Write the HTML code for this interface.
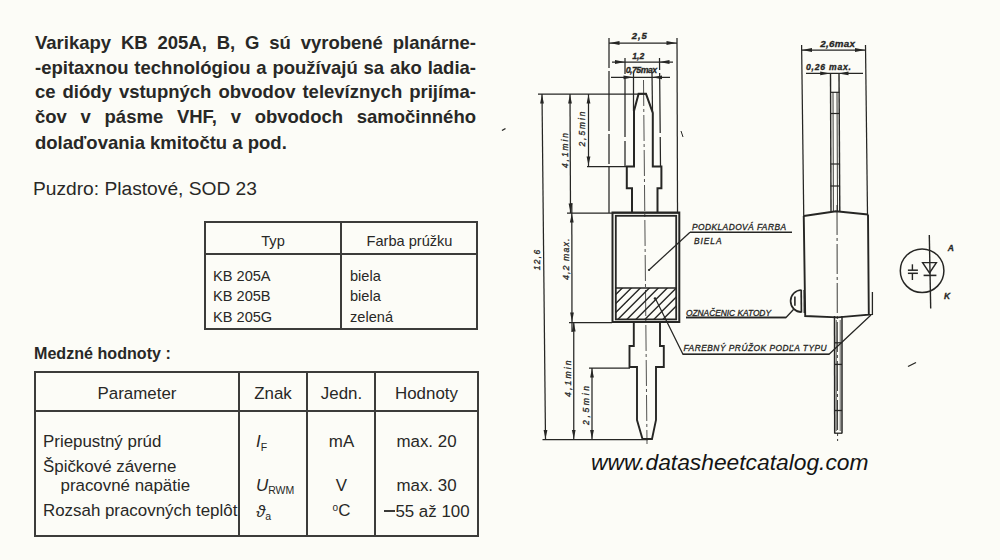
<!DOCTYPE html>
<html><head><meta charset="utf-8">
<style>
html,body{margin:0;padding:0;}
body{width:1000px;height:560px;overflow:hidden;background:#fcfcf7;position:relative;font-family:"Liberation Sans",sans-serif;color:#282826;}
.a{position:absolute;white-space:nowrap;}
.pl{position:absolute;left:35px;width:441px;font-weight:bold;font-size:18.5px;line-height:20px;text-align:justify;text-align-last:justify;white-space:nowrap;}
.t{position:absolute;font-size:14.6px;line-height:18px;}
.r{font-size:16.9px;line-height:18px;}
.ln{position:absolute;background:#3c3c3a;}
#dr{position:absolute;left:0;top:0;}
</style></head><body>
<div class="pl" style="top:33px">Varikapy KB 205A, B, G sú vyrobené planárne-</div>
<div class="pl" style="top:57.8px">-epitaxnou technológiou a používajú sa ako ladia-</div>
<div class="pl" style="top:81.6px">ce diódy vstupných obvodov televíznych prijíma-</div>
<div class="pl" style="top:106.9px">čov v pásme VHF, v obvodoch samočinného</div>
<div class="a" style="left:35px;top:132.6px;font-weight:bold;font-size:18.5px;line-height:20px;">dolaďovania kmitočtu a pod.</div>

<div class="a" style="left:33px;top:179px;font-size:19.2px;line-height:20px;">Puzdro: Plastové, SOD 23</div>

<!-- table 1 -->
<div class="ln" style="left:204px;top:221px;width:274px;height:2px;"></div>
<div class="ln" style="left:204px;top:328px;width:274px;height:2px;"></div>
<div class="ln" style="left:204px;top:221px;width:2px;height:109px;"></div>
<div class="ln" style="left:476px;top:221px;width:2px;height:109px;"></div>
<div class="ln" style="left:204px;top:253px;width:274px;height:2px;"></div>
<div class="ln" style="left:340px;top:221px;width:2px;height:109px;"></div>
<div class="t a" style="left:205px;width:136px;text-align:center;top:232px;">Typ</div>
<div class="t a" style="left:342px;width:135px;text-align:center;top:232px;">Farba prúžku</div>
<div class="t a" style="left:213px;top:267px;">KB 205A</div>
<div class="t a" style="left:213px;top:287px;">KB 205B</div>
<div class="t a" style="left:213px;top:307.5px;">KB 205G</div>
<div class="t a" style="left:350px;top:267px;">biela</div>
<div class="t a" style="left:350px;top:287px;">biela</div>
<div class="t a" style="left:350px;top:307.5px;">zelená</div>

<div class="a" style="left:34px;top:344.2px;font-weight:bold;font-size:16.1px;line-height:18px;">Medzné hodnoty :</div>

<!-- table 2 -->
<div class="ln" style="left:34px;top:371px;width:445px;height:2px;"></div>
<div class="ln" style="left:34px;top:535px;width:445px;height:2px;"></div>
<div class="ln" style="left:34px;top:371px;width:2px;height:166px;"></div>
<div class="ln" style="left:477px;top:371px;width:2px;height:166px;"></div>
<div class="ln" style="left:34px;top:410px;width:445px;height:2px;"></div>
<div class="ln" style="left:238px;top:371px;width:2px;height:166px;"></div>
<div class="ln" style="left:306px;top:371px;width:2px;height:166px;"></div>
<div class="ln" style="left:374px;top:371px;width:2px;height:166px;"></div>
<div class="r a" style="left:35px;width:204px;text-align:center;top:385.4px;">Parameter</div>
<div class="r a" style="left:240px;width:66px;text-align:center;top:385.4px;">Znak</div>
<div class="r a" style="left:308px;width:67px;text-align:center;top:385.4px;">Jedn.</div>
<div class="r a" style="left:376px;width:101px;text-align:center;top:385.4px;">Hodnoty</div>

<div class="r a" style="left:43px;top:432.8px;">Priepustný prúd</div>
<div class="r a" style="left:43px;top:457.8px;">Špičkové záverne</div>
<div class="r a" style="left:60.5px;top:477.4px;">pracovné napätie</div>
<div class="r a" style="left:43px;top:502.4px;">Rozsah pracovných teplôt</div>

<div class="r a" style="left:256px;top:432.8px;font-style:italic;">I<span style="font-size:10.5px;font-style:normal;position:relative;top:4px;">F</span></div>
<div class="r a" style="left:256px;top:477.4px;font-style:italic;">U<span style="font-size:10.5px;font-style:normal;position:relative;top:3px;">RWM</span></div>
<div class="r a" style="left:256px;top:503.4px;font-style:italic;">ϑ<span style="font-size:10.5px;font-style:normal;position:relative;top:3px;">a</span></div>

<div class="r a" style="left:308px;width:67px;text-align:center;top:432.8px;">mA</div>
<div class="r a" style="left:308px;width:67px;text-align:center;top:477.4px;">V</div>
<div class="r a" style="left:308px;width:67px;text-align:center;top:502.4px;"><span style="font-size:10px;position:relative;top:-5px;">o</span>C</div>

<div class="r a" style="left:376px;width:101px;text-align:center;top:432.8px;">max. 20</div>
<div class="r a" style="left:376px;width:101px;text-align:center;top:477.4px;">max. 30</div>
<div class="r a" style="left:376px;width:101px;text-align:center;top:503px;"><span style="display:inline-block;width:11px;height:1.3px;background:#3a3a38;vertical-align:5.5px;margin-left:0.5px;margin-right:0.5px;"></span>55 až 100</div>

<!-- DRAWING -->
<svg id="dr" width="1000" height="560" viewBox="0 0 1000 560">
<line x1="609" y1="38" x2="609" y2="213" stroke="#262624" stroke-width="1.25" stroke-dasharray="30 3 60 3"/>
<line x1="677" y1="38" x2="677.5" y2="213" stroke="#262624" stroke-width="1.25"/>
<line x1="609" y1="43" x2="677" y2="43" stroke="#262624" stroke-width="1.25"/>
<path d="M609.5 43.0 L619.5 41.1 L619.5 44.9 Z" fill="#262624"/>
<path d="M676.5 43.0 L666.5 44.9 L666.5 41.1 Z" fill="#262624"/>
<text x="639.3" y="39.3" font-family="Liberation Sans" font-style="italic" font-weight="bold" font-size="9.5" text-anchor="middle" fill="#262624" stroke="#262624" stroke-width="0.3" textLength="15" lengthAdjust="spacing">2,5</text>
<line x1="612" y1="62" x2="673" y2="62" stroke="#262624" stroke-width="1.25"/>
<path d="M625.0 62.0 L615.0 63.9 L615.0 60.1 Z" fill="#262624"/>
<path d="M659.5 62.0 L669.5 60.1 L669.5 63.9 Z" fill="#262624"/>
<line x1="625" y1="58" x2="625" y2="166" stroke="#262624" stroke-width="1.25" stroke-dasharray="16 3 60 4 40 3"/>
<line x1="659.5" y1="58" x2="660.5" y2="166" stroke="#262624" stroke-width="1.25" stroke-dasharray="12 3 60 4 40 3"/>
<text x="638.3" y="58.6" font-family="Liberation Sans" font-style="italic" font-weight="bold" font-size="8.6" text-anchor="middle" fill="#262624" stroke="#262624" stroke-width="0.3" textLength="12" lengthAdjust="spacing">1,2</text>
<line x1="611" y1="77.3" x2="670" y2="77.3" stroke="#262624" stroke-width="1.25"/>
<path d="M633.5 77.3 L623.5 79.2 L623.5 75.4 Z" fill="#262624"/>
<path d="M652.0 77.3 L662.0 75.4 L662.0 79.2 Z" fill="#262624"/>
<text x="641.5" y="72.6" font-family="Liberation Sans" font-style="italic" font-weight="bold" font-size="8.8" text-anchor="middle" fill="#262624" stroke="#262624" stroke-width="0.3" textLength="31.5" lengthAdjust="spacing">0,75max</text>
<line x1="633.5" y1="73" x2="633.5" y2="111" stroke="#262624" stroke-width="1.25"/>
<line x1="652" y1="73" x2="652.5" y2="112" stroke="#262624" stroke-width="1.25"/>
<line x1="643.5" y1="80" x2="647" y2="444" stroke="#262624" stroke-width="0.8" stroke-dasharray="26 3 3 3"/>
<line x1="538" y1="94.2" x2="647" y2="94.2" stroke="#262624" stroke-width="1.25"/>
<path d="M632 213 L632 188.3 L626.8 188.3 L626.8 166.6 L634 166.6 L634 111 L638.6 93.8 L646 93.8 L652.8 113 L652.8 166.6 L661.4 166.6 L661.4 188.3 L657.5 188.3 L657.5 213" stroke="#262624" stroke-width="2.0" fill="none" stroke-linejoin="miter"/>
<line x1="587" y1="166.6" x2="626.8" y2="166.6" stroke="#262624" stroke-width="1.25"/>
<line x1="567" y1="213" x2="680" y2="213" stroke="#262624" stroke-width="1.25"/>
<rect x="612.5" y="212.5" width="66.8" height="109.5" fill="none" stroke="#262624" stroke-width="2"/>
<rect x="615.8" y="215.8" width="60.4" height="103.6" fill="none" stroke="#262624" stroke-width="1.8"/>
<line x1="615.8" y1="288" x2="676.2" y2="288" stroke="#262624" stroke-width="1.4"/>
<clipPath id="hc"><rect x="616" y="288" width="60" height="31.5"/></clipPath>
<path clip-path="url(#hc)" d="M517.3 330 L567.3 280 M526.3 330 L576.3 280 M535.3 330 L585.3 280 M544.3 330 L594.3 280 M553.3 330 L603.3 280 M562.3 330 L612.3 280 M571.3 330 L621.3 280 M580.3 330 L630.3 280 M589.3 330 L639.3 280 M598.3 330 L648.3 280 M607.3 330 L657.3 280 M616.3 330 L666.3 280 M625.3 330 L675.3 280 M634.3 330 L684.3 280 M643.3 330 L693.3 280 M652.3 330 L702.3 280" stroke="#262624" stroke-width="1.4"/>
<circle cx="655" cy="298.5" r="1.3" fill="#262624"/>
<circle cx="649" cy="270" r="1.1" fill="#262624"/>
<line x1="569" y1="322.5" x2="612" y2="322.5" stroke="#262624" stroke-width="1.25"/>
<path d="M633.8 322 L633.8 346 L629.5 346 L629.5 367 L637 367 L637 420 L642.5 439 L652 439 L656 420 L656 367 L663.8 367 L663.8 346 L660 346 L660 322" stroke="#262624" stroke-width="1.9" fill="none" stroke-linejoin="miter"/>
<line x1="589" y1="368" x2="630" y2="368" stroke="#262624" stroke-width="1.25"/>
<line x1="542.5" y1="439.5" x2="648" y2="439.5" stroke="#262624" stroke-width="1.25"/>
<line x1="542" y1="94" x2="545.5" y2="439.5" stroke="#262624" stroke-width="1.25"/>
<path d="M542.0 94.5 L543.9 103.5 L540.1 103.5 Z" fill="#262624"/>
<path d="M545.5 439.0 L543.6 430.0 L547.4 430.0 Z" fill="#262624"/>
<text x="540.3" y="260" font-family="Liberation Sans" font-style="italic" font-weight="normal" font-size="8.4" text-anchor="middle" fill="#262624" stroke="#262624" stroke-width="0.3" textLength="20.5" lengthAdjust="spacing" transform="rotate(-90 540.3 260)">12,6</text>
<line x1="570" y1="94" x2="570.5" y2="213" stroke="#262624" stroke-width="1.25"/>
<path d="M570.0 94.5 L571.9 103.5 L568.1 103.5 Z" fill="#262624"/>
<path d="M570.5 212.5 L568.6 203.5 L572.4 203.5 Z" fill="#262624"/>
<text x="567.5" y="150.5" font-family="Liberation Sans" font-style="italic" font-weight="normal" font-size="8.4" text-anchor="middle" fill="#262624" stroke="#262624" stroke-width="0.3" textLength="35" lengthAdjust="spacing" transform="rotate(-90 567.5 150.5)">4,1min</text>
<line x1="588.5" y1="94" x2="588.5" y2="166" stroke="#262624" stroke-width="1.25"/>
<path d="M588.5 94.5 L590.4 103.5 L586.6 103.5 Z" fill="#262624"/>
<path d="M588.5 165.5 L586.6 156.5 L590.4 156.5 Z" fill="#262624"/>
<text x="585" y="129" font-family="Liberation Sans" font-style="italic" font-weight="normal" font-size="8.4" text-anchor="middle" fill="#262624" stroke="#262624" stroke-width="0.3" textLength="35" lengthAdjust="spacing" transform="rotate(-90 585 129)">2,5min</text>
<line x1="571.8" y1="203" x2="572" y2="332" stroke="#262624" stroke-width="1.25"/>
<path d="M571.8 213.5 L573.7 222.5 L569.9 222.5 Z" fill="#262624"/>
<path d="M572.0 321.5 L570.1 312.5 L573.9 312.5 Z" fill="#262624"/>
<text x="569.3" y="259.3" font-family="Liberation Sans" font-style="italic" font-weight="normal" font-size="8.8" text-anchor="middle" fill="#262624" stroke="#262624" stroke-width="0.3" textLength="41.5" lengthAdjust="spacing" transform="rotate(-90 569.3 259.3)">4,2 max.</text>
<line x1="573.75" y1="322" x2="573.75" y2="439.5" stroke="#262624" stroke-width="1.25"/>
<path d="M573.8 322.5 L575.6 331.5 L571.9 331.5 Z" fill="#262624"/>
<path d="M573.8 439.0 L571.9 430.0 L575.6 430.0 Z" fill="#262624"/>
<text x="571.2" y="378.7" font-family="Liberation Sans" font-style="italic" font-weight="normal" font-size="8.6" text-anchor="middle" fill="#262624" stroke="#262624" stroke-width="0.3" textLength="36.5" lengthAdjust="spacing" transform="rotate(-90 571.2 378.7)">4,1min</text>
<line x1="592" y1="368" x2="592" y2="439.5" stroke="#262624" stroke-width="1.25"/>
<path d="M592.0 368.5 L593.9 377.5 L590.1 377.5 Z" fill="#262624"/>
<path d="M592.0 439.0 L590.1 430.0 L593.9 430.0 Z" fill="#262624"/>
<text x="589.3" y="405.5" font-family="Liberation Sans" font-style="italic" font-weight="normal" font-size="8.6" text-anchor="middle" fill="#262624" stroke="#262624" stroke-width="0.3" textLength="39" lengthAdjust="spacing" transform="rotate(-90 589.3 405.5)">2,5min</text>
<line x1="649" y1="270" x2="690" y2="232.2" stroke="#262624" stroke-width="1.25"/>
<line x1="690" y1="232.2" x2="792" y2="232.2" stroke="#262624" stroke-width="1.6"/>
<text x="692" y="230.3" font-family="Liberation Sans" font-style="italic" font-weight="normal" font-size="8.4" text-anchor="start" fill="#262624" stroke="#262624" stroke-width="0.3" textLength="94" lengthAdjust="spacing">PODKLADOVÁ FARBA</text>
<text x="694" y="244.2" font-family="Liberation Sans" font-style="italic" font-weight="normal" font-size="8.4" text-anchor="start" fill="#262624" stroke="#262624" stroke-width="0.3" textLength="27.5" lengthAdjust="spacing">BIELA</text>
<path d="M655.5 298.8 L683 354.3 L829 354.3 L871 315" stroke="#262624" stroke-width="1.2" fill="none" stroke-linejoin="miter"/>
<line x1="683" y1="354.3" x2="829" y2="354.3" stroke="#262624" stroke-width="1.6"/>
<text x="683.6" y="351.2" font-family="Liberation Sans" font-style="italic" font-weight="normal" font-size="8.4" text-anchor="start" fill="#262624" stroke="#262624" stroke-width="0.3" textLength="143" lengthAdjust="spacing">FAREBNÝ PRÚŽOK PODĽA TYPU</text>
<path d="M686 317.5 L786 317.5 L793.7 309.3" stroke="#262624" stroke-width="1.3" fill="none" stroke-linejoin="miter"/>
<line x1="686" y1="317.5" x2="786" y2="317.5" stroke="#262624" stroke-width="1.7"/>
<text x="686" y="315.5" font-family="Liberation Sans" font-style="italic" font-weight="normal" font-size="8.4" text-anchor="start" fill="#262624" stroke="#262624" stroke-width="0.3" textLength="85" lengthAdjust="spacing">OZNAČENIC KATODY</text>
<line x1="801.6" y1="45" x2="803.75" y2="216" stroke="#262624" stroke-width="1.25"/>
<line x1="865.5" y1="45" x2="867.5" y2="214.5" stroke="#262624" stroke-width="1.25"/>
<line x1="801.6" y1="50" x2="865.5" y2="50" stroke="#262624" stroke-width="1.25"/>
<path d="M802.0 50.0 L812.0 48.1 L812.0 51.9 Z" fill="#262624"/>
<path d="M865.0 50.0 L855.0 51.9 L855.0 48.1 Z" fill="#262624"/>
<text x="837.6" y="47.1" font-family="Liberation Sans" font-style="italic" font-weight="bold" font-size="9.8" text-anchor="middle" fill="#262624" stroke="#262624" stroke-width="0.3" textLength="34.5" lengthAdjust="spacing">2,6max</text>
<text x="828.5" y="69.6" font-family="Liberation Sans" font-style="italic" font-weight="bold" font-size="8.6" text-anchor="middle" fill="#262624" stroke="#262624" stroke-width="0.3" textLength="45" lengthAdjust="spacing">0,26 max.</text>
<line x1="806" y1="73.4" x2="863" y2="73.4" stroke="#262624" stroke-width="1.25"/>
<path d="M830.2 73.4 L820.2 75.3 L820.2 71.5 Z" fill="#262624"/>
<path d="M838.5 73.4 L848.5 71.5 L848.5 75.3 Z" fill="#262624"/>
<line x1="830.5" y1="73" x2="831" y2="211.4" stroke="#262624" stroke-width="1.4"/>
<line x1="839" y1="73" x2="839.8" y2="211.4" stroke="#262624" stroke-width="1.4"/>
<line x1="833" y1="92" x2="833.4" y2="211" stroke="#262624" stroke-width="0.9"/>
<line x1="837" y1="92" x2="837.5" y2="211" stroke="#262624" stroke-width="0.9"/>
<line x1="830.5" y1="92.3" x2="839.5" y2="92.3" stroke="#262624" stroke-width="1.2"/>
<line x1="830.5" y1="113.5" x2="839.5" y2="113.5" stroke="#262624" stroke-width="1.2"/>
<line x1="830.5" y1="164" x2="839.5" y2="164" stroke="#262624" stroke-width="1.2"/>
<line x1="830.5" y1="186" x2="839.5" y2="186" stroke="#262624" stroke-width="1.2"/>
<path d="M803.75 216 L836 211.3 L868 214.5" stroke="#262624" stroke-width="1.9" fill="none" stroke-linejoin="miter"/>
<path d="M803.75 216 L805.2 316 L837.6 317.4 L868.8 314.6 L868 214.5" stroke="#262624" stroke-width="1.9" fill="none" stroke-linejoin="miter"/>
<path d="M868.8 314.6 L872.4 314.3 L872.4 292" stroke="#262624" stroke-width="1.3" fill="none" stroke-linejoin="miter"/>
<line x1="837" y1="205" x2="837.6" y2="441" stroke="#262624" stroke-width="0.9" stroke-dasharray="30 3 3 3"/>
<path d="M801.5 290 A10.8 11 0 0 0 801.5 312.2" fill="none" stroke="#262624" stroke-width="1.7"/>
<line x1="801.2" y1="290" x2="801.4" y2="312.5" stroke="#262624" stroke-width="1.7"/>
<line x1="804.2" y1="290" x2="804.4" y2="313" stroke="#262624" stroke-width="1.6"/>
<line x1="794.9" y1="296.5" x2="794.9" y2="305.7" stroke="#262624" stroke-width="1.6"/>
<line x1="834.5" y1="316" x2="834.7" y2="433.5" stroke="#262624" stroke-width="1.5"/>
<line x1="842" y1="316" x2="842" y2="433.5" stroke="#262624" stroke-width="1.5"/>
<line x1="836.3" y1="320" x2="836.3" y2="431" stroke="#262624" stroke-width="0.7"/>
<line x1="840.2" y1="320" x2="840.2" y2="431" stroke="#262624" stroke-width="0.7"/>
<line x1="834.5" y1="342.8" x2="842" y2="342.8" stroke="#262624" stroke-width="1.3"/>
<line x1="834.5" y1="364.4" x2="842" y2="364.4" stroke="#262624" stroke-width="1.3"/>
<line x1="834.5" y1="410.5" x2="842" y2="410.5" stroke="#262624" stroke-width="1.3"/>
<line x1="834.5" y1="433.2" x2="842" y2="433.2" stroke="#262624" stroke-width="1.3"/>
<circle cx="922.1" cy="270.7" r="21.8" fill="none" stroke="#262624" stroke-width="1.5"/>
<line x1="929.3" y1="235" x2="930.7" y2="308.6" stroke="#262624" stroke-width="1.4"/>
<path d="M922.6 262.6 L936.4 262.6 L929.5 273 L922.6 262.6 Z" stroke="#262624" stroke-width="1.4" fill="none" stroke-linejoin="miter"/>
<line x1="923.6" y1="275.4" x2="936.4" y2="275.4" stroke="#262624" stroke-width="1.6"/>
<line x1="907.9" y1="270.2" x2="917.9" y2="270.2" stroke="#262624" stroke-width="1.5"/>
<line x1="907.9" y1="273.3" x2="917.9" y2="273.3" stroke="#262624" stroke-width="1.5"/>
<line x1="912.4" y1="264.3" x2="912.4" y2="270.2" stroke="#262624" stroke-width="1.4"/>
<line x1="912.4" y1="273.3" x2="912.4" y2="280" stroke="#262624" stroke-width="1.4"/>
<text x="950.7" y="251" font-family="Liberation Sans" font-style="italic" font-weight="bold" font-size="8.5" text-anchor="middle" fill="#262624" stroke="#262624" stroke-width="0.3">A</text>
<text x="947" y="299" font-family="Liberation Sans" font-style="italic" font-weight="bold" font-size="8.5" text-anchor="middle" fill="#262624" stroke="#262624" stroke-width="0.3">K</text>
<line x1="908" y1="366.5" x2="916" y2="362.5" stroke="#262624" stroke-width="1.3"/>
<line x1="502" y1="130.5" x2="505.5" y2="128.5" stroke="#262624" stroke-width="1.4"/>
<line x1="681" y1="131" x2="683" y2="137" stroke="#262624" stroke-width="1.0"/>
</svg>
<div class="a" style="left:591px;top:449px;font-style:italic;font-size:22.8px;line-height:26px;color:#141414;">www.datasheetcatalog.com</div>
</body></html>
